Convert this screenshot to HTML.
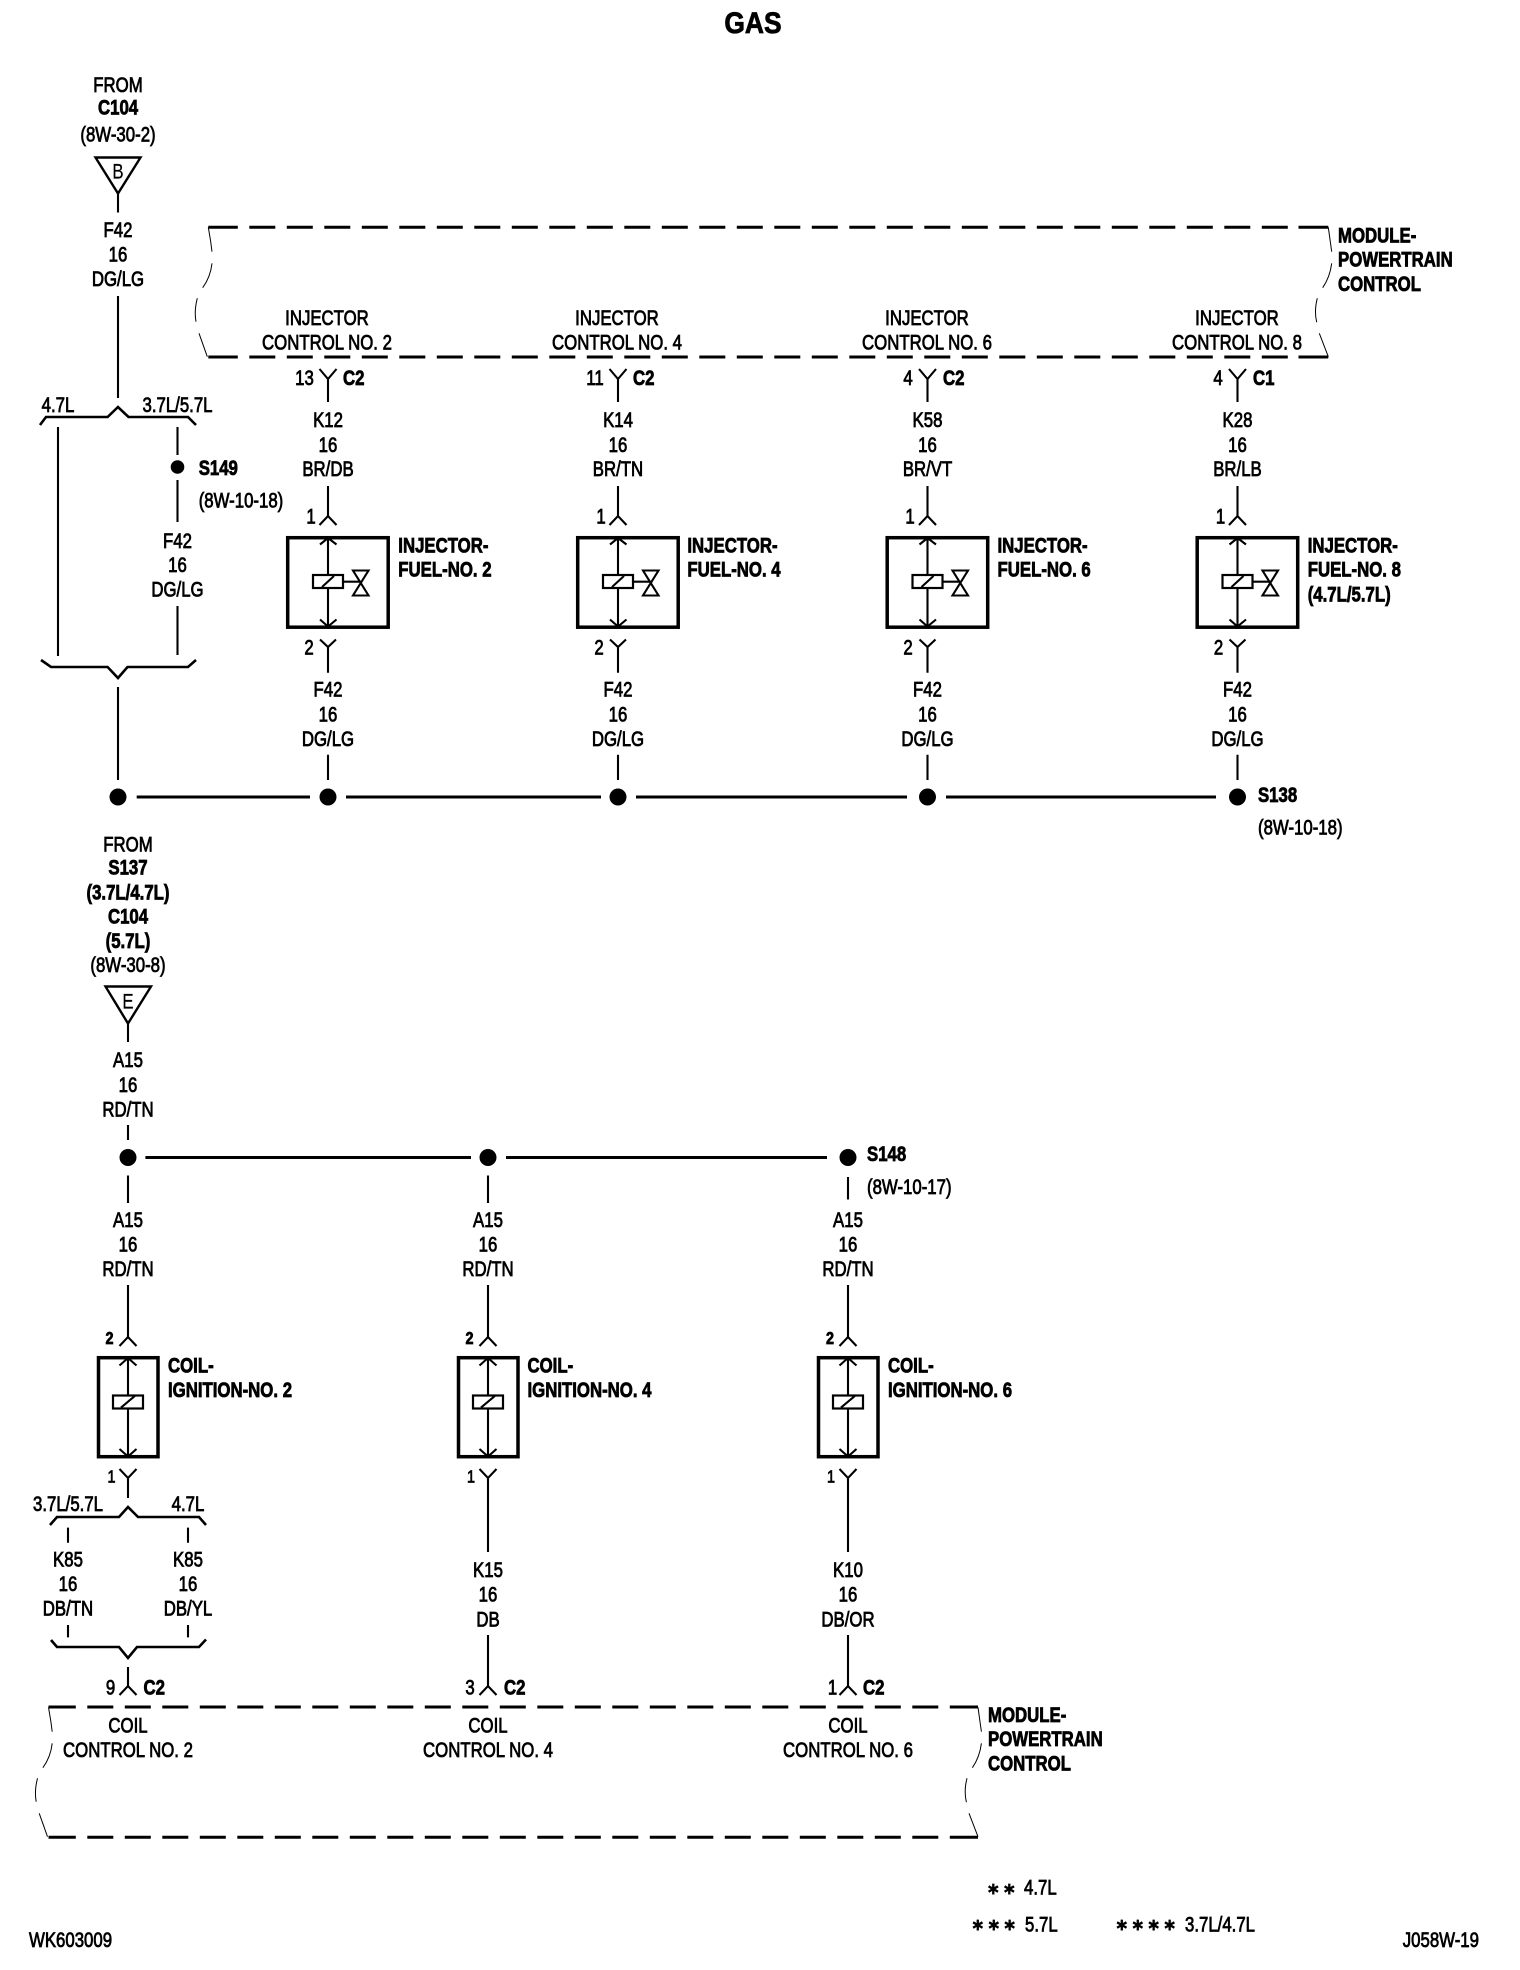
<!DOCTYPE html>
<html><head><meta charset="utf-8"><title>GAS</title>
<style>
html,body{margin:0;padding:0;background:#fff}
svg{display:block}
text{font:21px "Liberation Sans",sans-serif;fill:#000;stroke:#000;stroke-width:.8;text-anchor:middle;transform-box:fill-box;transform-origin:50% 50%;transform:translateY(-.6px) scaleX(.8)}
.b{font-weight:bold}
.l{text-anchor:start;transform-origin:0 50%}
.r{text-anchor:end;transform-origin:100% 50%}
.a{font-family:"DejaVu Sans",sans-serif;font-size:15px;stroke-width:0;transform:none;text-anchor:start;letter-spacing:3.4px}
.t{font-size:30px;transform:scaleX(.88)}
.w{fill:none;stroke:#000;stroke-width:2.1}
.h{fill:none;stroke:#000;stroke-width:3}
.d{fill:none;stroke:#000;stroke-width:3;stroke-dasharray:26 11.5}
.e{fill:none;stroke:#000;stroke-width:3}
.q{fill:none;stroke:#000;stroke-width:1}
</style></head><body>
<svg width="1520" height="1970" viewBox="0 0 1520 1970" xmlns="http://www.w3.org/2000/svg">
<defs>
<g id="inj">
<path class="w" d="M328 402V379M319.5 369L328 379L336.5 369M328 486V516M319.5 525L328 516L336.5 525"/>
<rect x="287.7" y="537.7" width="100.5" height="89.5" fill="none" stroke="#000" stroke-width="3.5"/>
<path class="w" d="M328 538V627M320 544.5L328 538L336.5 544.5M320 619.5L328 626.5L336.5 619.5"/>
<rect x="313" y="575" width="30" height="13" fill="#fff" stroke="#000" stroke-width="2.2"/>
<path class="w" d="M322 587L334 576M343 581.7H360.7M353 570.5H368.5L353 595.5H368.5Z"/>
<path class="w" d="M320 639.5L328 647L336 639.5M328 647V672.7M328 754.7V780"/>
</g>
<g id="coil">
<path class="w" d="M128 1285V1337M119.5 1346L128 1337L136.5 1346"/>
<rect x="98.5" y="1357.7" width="59.5" height="99" fill="none" stroke="#000" stroke-width="3.5"/>
<path class="w" d="M128 1358V1457M119.5 1365.5L128 1358L136.5 1365.5M119.5 1449L128 1456.5L136.5 1449"/>
<rect x="113" y="1395.5" width="30" height="13" fill="#fff" stroke="#000" stroke-width="2.2"/>
<path class="w" d="M121 1407.6L134.8 1396M119.5 1469L128 1478L136.5 1469"/>
</g>
<path id="ql" class="q" d="M208.3 227.3L210.7 241.7L212 251.7M212 263.3Q210.5 277 202.7 287.7M197.3 298.3Q194 311 196 321.7M199 333.3L207.3 356.7"/>
<path id="qr" class="q" d="M1328.3 227.3L1331.7 251.7M1331.7 263.3Q1330 277 1322.7 287.7M1317.3 298.3Q1314 311 1316.7 322.3M1319.3 333.3L1328.3 356.7"/>
</defs>

<text class="b t" x="753" y="33">GAS</text>

<!-- top feed -->
<text x="118" y="92.5">FROM</text>
<text class="b" x="118" y="115">C104</text>
<text x="118" y="142">(8W-30-2)</text>
<path d="M95.5 157.5H140.5L118 193.5Z" fill="none" stroke="#000" stroke-width="2.4"/>
<text x="118" y="179" style="stroke-width:.2">B</text>
<path class="w" d="M118 193V212.5"/>
<text x="118" y="237.5">F42</text><text x="118" y="262">16</text><text x="118" y="286.5">DG/LG</text>
<path class="w" d="M118 296V398"/>
<text x="58" y="412.5">4.7L</text><text x="177.5" y="412.5">3.7L/5.7L</text>
<path class="h" style="stroke-width:2.6" d="M40 425L46 417H107.6L118 407L128.5 417H188L196 425"/>
<path class="w" d="M58 427V656M177.5 427V455M177.5 480V522M177.5 606V655"/>
<circle cx="177.5" cy="467" r="6.8"/>
<text class="b l" x="198.7" y="475.5">S149</text>
<text class="l" x="198.7" y="508">(8W-10-18)</text>
<text x="177.5" y="548.5">F42</text><text x="177.5" y="572.5">16</text><text x="177.5" y="597">DG/LG</text>
<path class="h" style="stroke-width:2.6" d="M41 660L51 667H107.6L118 678L127.5 667H188L196 660"/>
<path class="w" d="M118 687V780"/>

<!-- top module -->
<path class="d" d="M211.8 227.3H1299"/><path class="e" d="M208.3 227.3H212M1298.5 227.3H1328.3"/>
<path class="d" d="M211.8 357H1299"/><path class="e" d="M208.3 357H212M1298.5 357H1328.3"/>
<use href="#ql"/><use href="#qr"/>
<text class="b l" x="1338" y="243">MODULE-</text><text class="b l" x="1338" y="267">POWERTRAIN</text><text class="b l" x="1338" y="291.5">CONTROL</text>

<!-- injector columns -->
<use href="#inj"/><use href="#inj" x="290"/><use href="#inj" x="599.5"/><use href="#inj" x="909.5"/>

<text x="327" y="325.5">INJECTOR</text><text x="327" y="350">CONTROL NO. 2</text>
<text x="617" y="325.5">INJECTOR</text><text x="617" y="350">CONTROL NO. 4</text>
<text x="927" y="325.5">INJECTOR</text><text x="927" y="350">CONTROL NO. 6</text>
<text x="1237" y="325.5">INJECTOR</text><text x="1237" y="350">CONTROL NO. 8</text>

<text x="304.5" y="385.5">13</text><text class="b l" x="343" y="385.5">C2</text>
<text x="595" y="385.5">11</text><text class="b l" x="633" y="385.5">C2</text>
<text x="908" y="385.5">4</text><text class="b l" x="943" y="385.5">C2</text>
<text x="1218" y="385.5">4</text><text class="b l" x="1253" y="385.5">C1</text>

<text x="328" y="427.5">K12</text><text x="328" y="452.5">16</text><text x="328" y="476.5">BR/DB</text>
<text x="618" y="427.5">K14</text><text x="618" y="452.5">16</text><text x="618" y="476.5">BR/TN</text>
<text x="927.5" y="427.5">K58</text><text x="927.5" y="452.5">16</text><text x="927.5" y="476.5">BR/VT</text>
<text x="1237.5" y="427.5">K28</text><text x="1237.5" y="452.5">16</text><text x="1237.5" y="476.5">BR/LB</text>

<text x="311" y="524">1</text><text x="601" y="524">1</text><text x="910" y="524">1</text><text x="1220.5" y="524">1</text>
<text x="309" y="655">2</text><text x="599" y="655">2</text><text x="908" y="655">2</text><text x="1218.5" y="655">2</text>

<text class="b l" x="398.3" y="553">INJECTOR-</text><text class="b l" x="398.3" y="577">FUEL-NO. 2</text>
<text class="b l" x="687.4" y="553">INJECTOR-</text><text class="b l" x="687.4" y="577">FUEL-NO. 4</text>
<text class="b l" x="997.5" y="553">INJECTOR-</text><text class="b l" x="997.5" y="577">FUEL-NO. 6</text>
<text class="b l" x="1307.7" y="553">INJECTOR-</text><text class="b l" x="1307.7" y="577">FUEL-NO. 8</text><text class="b l" x="1307.7" y="602">(4.7L/5.7L)</text>

<text x="328" y="697">F42</text><text x="328" y="722">16</text><text x="328" y="746.5">DG/LG</text>
<text x="618" y="697">F42</text><text x="618" y="722">16</text><text x="618" y="746.5">DG/LG</text>
<text x="927.5" y="697">F42</text><text x="927.5" y="722">16</text><text x="927.5" y="746.5">DG/LG</text>
<text x="1237.5" y="697">F42</text><text x="1237.5" y="722">16</text><text x="1237.5" y="746.5">DG/LG</text>

<path class="h" d="M136.7 797H310M346 797H601M636 797H907M946 797H1216"/>
<circle cx="118" cy="797" r="8.5"/><circle cx="328" cy="797" r="8.5"/><circle cx="618" cy="797" r="8.5"/><circle cx="927.5" cy="797" r="8.5"/><circle cx="1237.5" cy="797" r="8.5"/>
<text class="b l" x="1258" y="802.5">S138</text>
<text class="l" x="1258" y="835">(8W-10-18)</text>

<!-- second feed -->
<text x="128" y="852">FROM</text>
<text class="b" x="128" y="875">S137</text>
<text class="b" x="128" y="900">(3.7L/4.7L)</text>
<text class="b" x="128" y="924">C104</text>
<text class="b" x="128" y="948.5">(5.7L)</text>
<text x="128" y="972.5">(8W-30-8)</text>
<path d="M105.5 986.5H151L128 1023.5Z" fill="none" stroke="#000" stroke-width="2.4"/>
<text x="128" y="1009" style="stroke-width:.2">E</text>
<path class="w" d="M128 1023V1042"/>
<text x="128" y="1067.5">A15</text><text x="128" y="1092.5">16</text><text x="128" y="1117">RD/TN</text>
<path class="w" d="M128 1125V1140M128 1175.5V1203M488 1175.5V1203M848 1177V1199.5"/>
<path class="h" d="M145.4 1157.5H471M506 1157.5H827"/>
<circle cx="128" cy="1157.5" r="8.5"/><circle cx="488" cy="1157.5" r="8.5"/><circle cx="848" cy="1157.5" r="8.5"/>
<text class="b l" x="867" y="1161.5">S148</text>
<text class="l" x="867" y="1194.5">(8W-10-17)</text>

<text x="128" y="1227.5">A15</text><text x="128" y="1252">16</text><text x="128" y="1276.5">RD/TN</text>
<text x="488" y="1227.5">A15</text><text x="488" y="1252">16</text><text x="488" y="1276.5">RD/TN</text>
<text x="848" y="1227.5">A15</text><text x="848" y="1252">16</text><text x="848" y="1276.5">RD/TN</text>

<use href="#coil"/><use href="#coil" x="360"/><use href="#coil" x="720"/>
<text class="b" x="109.5" y="1344.5" style="font-size:18px">2</text><text class="b" x="469.5" y="1344.5" style="font-size:18px">2</text><text class="b" x="830" y="1344.5" style="font-size:18px">2</text>
<text x="111.5" y="1483" style="font-size:18px">1</text><text x="471" y="1483" style="font-size:18px">1</text><text x="831" y="1483" style="font-size:18px">1</text>

<text class="b l" x="168" y="1373">COIL-</text><text class="b l" x="168" y="1397.5">IGNITION-NO. 2</text>
<text class="b l" x="527.5" y="1373">COIL-</text><text class="b l" x="527.5" y="1397.5">IGNITION-NO. 4</text>
<text class="b l" x="888" y="1373">COIL-</text><text class="b l" x="888" y="1397.5">IGNITION-NO. 6</text>

<!-- column 1 split -->
<path class="w" d="M128 1478V1498"/>
<text x="68" y="1511.5">3.7L/5.7L</text><text x="188" y="1511.5">4.7L</text>
<path class="h" style="stroke-width:2.6" d="M50 1525L57 1517H119L128 1507L138 1517H199L206 1525"/>
<path class="w" d="M68 1527.6V1542.7M188 1527.6V1542.7M68 1625V1637.4M188 1625V1637.4"/>
<text x="68" y="1567">K85</text><text x="68" y="1591.5">16</text><text x="68" y="1616">DB/TN</text>
<text x="188" y="1567">K85</text><text x="188" y="1591.5">16</text><text x="188" y="1616">DB/YL</text>
<path class="h" style="stroke-width:2.6" d="M51 1640L57 1647H119L128 1658L137 1647H199L206 1639.5"/>
<path class="w" d="M128 1667V1686M119.5 1695L128 1686L136.5 1695"/>

<!-- columns 2,3 -->
<path class="w" d="M488 1478V1552M488 1635V1686M479.5 1695L488 1686L496.5 1695M848 1478V1552M848 1635V1686M839.5 1695L848 1686L856.5 1695"/>
<text x="488" y="1577.5">K15</text><text x="488" y="1602">16</text><text x="488" y="1627">DB</text>
<text x="848" y="1577.5">K10</text><text x="848" y="1602">16</text><text x="848" y="1627">DB/OR</text>

<text x="110.5" y="1695">9</text><text class="b l" x="143.5" y="1695">C2</text>
<text x="470" y="1695">3</text><text class="b l" x="504" y="1695">C2</text>
<text x="832.5" y="1695">1</text><text class="b l" x="863" y="1695">C2</text>

<!-- bottom module -->
<path class="d" d="M49.8 1707H950"/><path class="e" d="M48.5 1707H50M950 1707H978"/>
<path class="d" d="M49.8 1837.3H950"/><path class="e" d="M48.5 1837.3H50M950 1837.3H978"/>
<use href="#ql" x="-159.8" y="1480"/><use href="#qr" x="-350.3" y="1480"/>

<text x="128" y="1733">COIL</text><text x="128" y="1757.5">CONTROL NO. 2</text>
<text x="488" y="1733">COIL</text><text x="488" y="1757.5">CONTROL NO. 4</text>
<text x="848" y="1733">COIL</text><text x="848" y="1757.5">CONTROL NO. 6</text>

<text class="b l" x="988" y="1722.5">MODULE-</text><text class="b l" x="988" y="1746.5">POWERTRAIN</text><text class="b l" x="988" y="1771">CONTROL</text>

<!-- footnotes -->
<text class="a" x="987" y="1894.3">✱✱</text><text class="l" x="1024" y="1895">4.7L</text>
<text class="a" x="971.5" y="1930.3">✱✱✱</text><text class="l" x="1025" y="1932">5.7L</text>
<text class="a" x="1115.5" y="1930.3">✱✱✱✱</text><text class="l" x="1185" y="1932">3.7L/4.7L</text>

<text class="l" x="29" y="1947.5">WK603009</text>
<text class="r" x="1479" y="1947.5">J058W-19</text>
</svg>
</body></html>
